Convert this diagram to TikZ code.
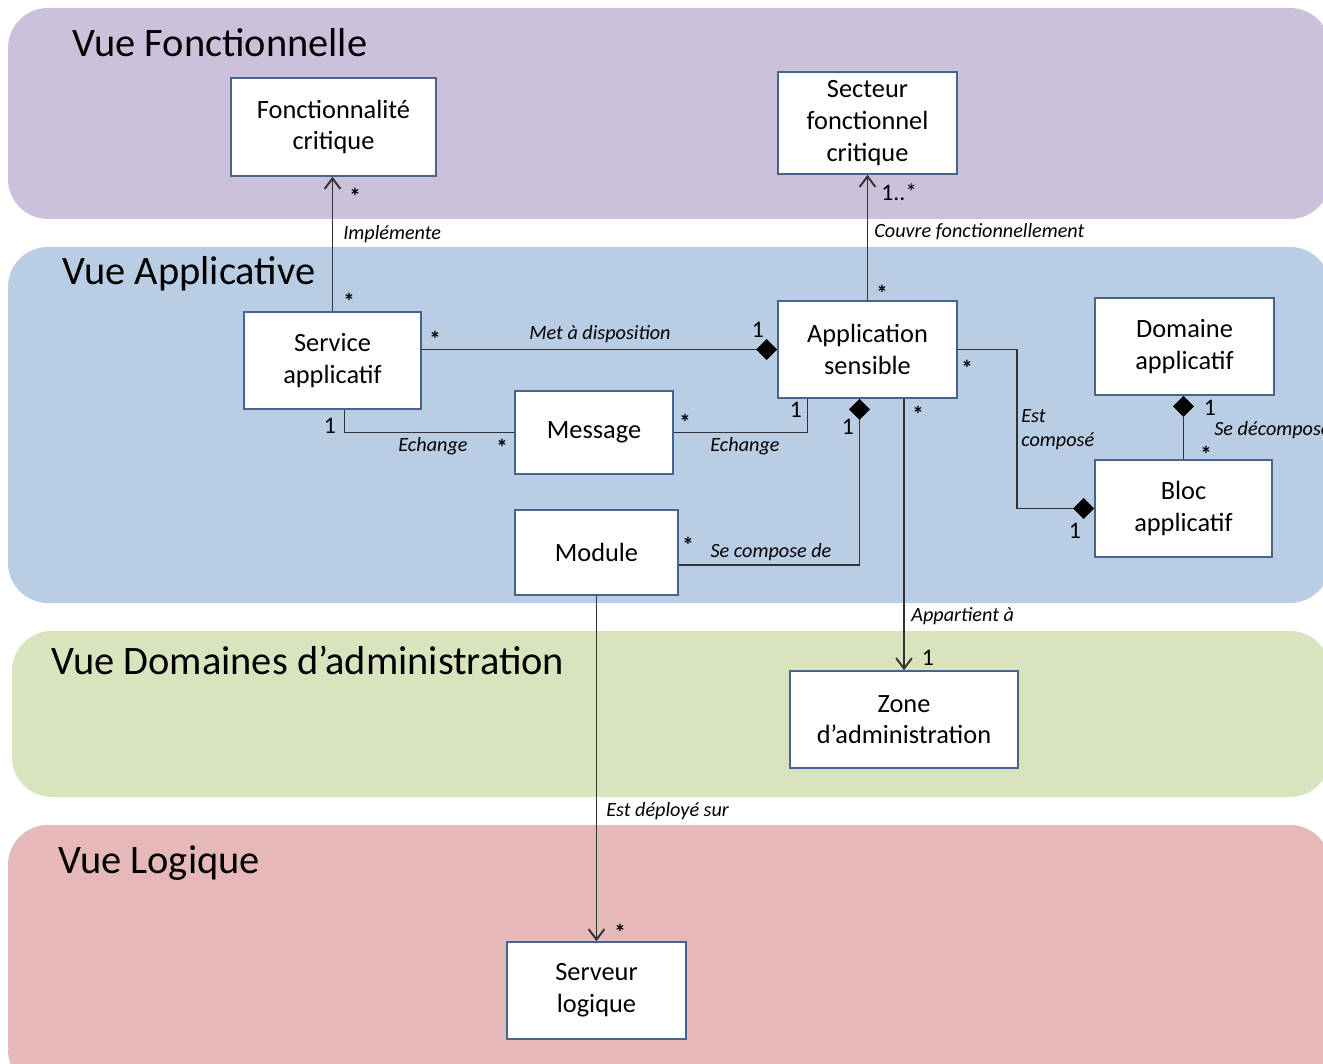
\documentclass[tikz,border=0pt]{standalone}
\usepackage{fontspec}
\setmainfont{Carlito}
\usetikzlibrary{arrows.meta, calc}
\definecolor{vfpurple}{RGB}{204,193,218}
\definecolor{vablue}{RGB}{185,205,229}
\definecolor{vdgreen}{RGB}{215,228,189}
\definecolor{vlred}{RGB}{230,185,184}
\definecolor{boxline}{RGB}{70,100,140}
\definecolor{assocgray}{RGB}{50,50,50}

\begin{document}
\begin{tikzpicture}[x=0.02cm, y=-0.02cm,
  band/.style={rounded corners=0.8cm},
  vtitle/.style={anchor=base west, inner sep=0pt, font=\fontsize{23}{27}\selectfont},
  cbox/.style={draw=boxline, line width=0.9pt, fill=white, align=center,
               font=\fontsize{15}{18}\selectfont, inner sep=0pt},
  assoc/.style={draw=assocgray, line width=1.1pt},
  nav/.style={-{Straight Barb[length=6pt,width=9pt]}},
  comp/.style={-{Diamond[length=12pt,width=12pt,color=black]}},
  lbl/.style={font=\fontsize{11.5}{13.5}\selectfont\itshape, inner sep=0pt},
  mult/.style={font=\fontsize{13.5}{16}\selectfont, inner sep=0pt},
  mstar/.style={font=\fontsize{13}{15}\selectfont\bfseries, inner sep=0pt}]
  \useasboundingbox (0,0) rectangle (1323,1064);

  % view bands
  \fill[vfpurple, band] (8,8) rectangle (1330,219);
  \fill[vablue, band] (8,247) rectangle (1330,603);
  \fill[vdgreen, band] (12,631) rectangle (1330,797);
  \fill[vlred, band] (8,825) rectangle (1330,1090);

  \node[vtitle] (tfonc) at (72,57) {Vue Fonctionnelle};
  \node[vtitle] (tappl) at (62,285) {Vue Applicative};
  \node[vtitle] (tdom) at (51,674) {Vue Domaines d’administration};
  \node[vtitle] (tlog) at (58,873) {Vue Logique};

  % classes
  \node[cbox, minimum width=4.1cm, minimum height=1.96cm] (fonc) at (333.5,127) {Fonctionnalité\\critique};
  \node[cbox, minimum width=3.58cm, minimum height=2.04cm] (sect) at (867.5,123) {Secteur\\fonctionnel\\critique};
  \node[cbox, minimum width=3.54cm, minimum height=1.94cm] (serv) at (332.5,360.5) {Service\\applicatif};
  \node[cbox, minimum width=3.58cm, minimum height=1.94cm] (app) at (867.5,349.5) {Application\\sensible};
  \node[cbox, minimum width=3.58cm, minimum height=1.94cm] (dom) at (1184.5,346.5) {Domaine\\applicatif};
  \node[cbox, minimum width=3.16cm, minimum height=1.66cm] (msg) at (594,432.5) {Message};
  \node[cbox, minimum width=3.54cm, minimum height=1.94cm] (bloc) at (1183.5,508.5) {Bloc\\applicatif};
  \node[cbox, minimum width=3.26cm, minimum height=1.7cm] (mod) at (596.5,552.5) {Module};
  \node[cbox, minimum width=4.56cm, minimum height=1.94cm] (zone) at (904,719.5) {Zone\\d’administration};
  \node[cbox, minimum width=3.58cm, minimum height=1.94cm] (serveur) at (596.5,990.5) {Serveur\\logique};

  % associations
  \draw[assoc, nav] (serv.north) -- (serv.north |- fonc.south);
  \draw[assoc, nav] (app.north) -- (sect.south);
  \draw[assoc, comp] (serv.east |- app.west) -- (app.west);
  \draw[assoc] ($(serv.south)+(12,0)$) |- (msg.west);
  \draw[assoc] (msg.east) -| ($(app.south)+(-60,0)$);
  \draw[assoc, comp] ($(mod.east)+(0,12.5)$) -| ($(app.south)+(-8,0)$);
  \draw[assoc, nav] (zone.north |- app.south) -- (zone.north);
  \draw[assoc, comp] (app.east) -- ++(59,0) |- (bloc.west);
  \draw[assoc, comp] (bloc.north) -- (bloc.north |- dom.south);
  \draw[assoc, nav] (mod.south) -- (serveur.north);

  % association labels
  \node[lbl, anchor=west] (limpl) at (343,234) {Implémente};
  \node[lbl, anchor=west] (lcouv) at (874,232) {Couvre fonctionnellement};
  \node[lbl] (lmet) at (600,334) {Met à disposition};
  \node[lbl] (lech1) at (433,446) {Echange};
  \node[lbl] (lech2) at (745,446) {Echange};
  \node[lbl] (lcomp) at (771,552) {Se compose de};
  \node[lbl, anchor=west] (lapp) at (911,616) {Appartient à};
  \node[lbl, anchor=west, align=left] (lest) at (1021,430) {Est\\composé};
  \node[lbl, anchor=west] (ldec) at (1214,430) {Se décompose};
  \node[lbl, anchor=west] (ldep) at (606,811) {Est déployé sur};

  % multiplicities
  \node[mstar] (m1) at (355,196) {*};
  \node[mstar] (m2) at (349,301) {*};
  \node[mult, anchor=west] (m3) at (881,192) {1..*};
  \node[mstar] (m4) at (882,293) {*};
  \node[mstar] (m5) at (435,339) {*};
  \node[mult] (m6) at (758,330) {1};
  \node[mult] (m7) at (330,426) {1};
  \node[mstar] (m8) at (502,447) {*};
  \node[mstar] (m9) at (685,422) {*};
  \node[mult] (m10) at (796,410) {1};
  \node[mstar] (m11) at (688,545) {*};
  \node[mult] (m12) at (848,427) {1};
  \node[mstar] (m13) at (918,414) {*};
  \node[mult] (m14) at (928,658) {1};
  \node[mstar] (m15) at (967,368) {*};
  \node[mult] (m16) at (1075,531) {1};
  \node[mult] (m17) at (1210,408) {1};
  \node[mstar] (m18) at (1206,454) {*};
  \node[mstar] (m19) at (620,932) {*};
\end{tikzpicture}
\end{document}
